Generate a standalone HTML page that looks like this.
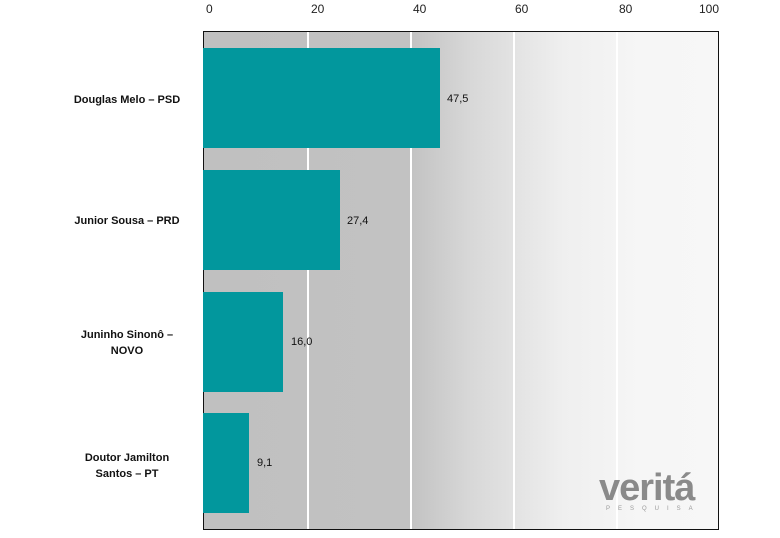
<!DOCTYPE html>
<html><head><style>
body{margin:0;width:780px;height:538px;background:#fff;position:relative;overflow:hidden;font-family:"Liberation Sans",sans-serif;}
.t{position:absolute;top:2px;font-size:12px;color:#222;}
#plot{position:absolute;left:203px;top:31px;width:516px;height:499px;border:1.5px solid #111;box-sizing:border-box;
background:linear-gradient(to right,#c0c0c0 0%,#c2c2c2 40%,#d8d8d8 52%,#efefef 70%,#f6f6f6 85%,#f7f7f7 100%);}
.g{position:absolute;top:0;bottom:0;width:1.5px;background:#fff;}
.bar{position:absolute;left:203px;height:100px;background:#02979d;}
.v{position:absolute;font-size:11px;color:#111;}
.lab{position:absolute;right:578px;width:150px;text-align:center;font-size:11px;font-weight:bold;color:#111;line-height:16px;}
</style></head><body>
<div class="t" style="left:206px">0</div>
<div class="t" style="left:311px">20</div>
<div class="t" style="left:413px">40</div>
<div class="t" style="left:515px">60</div>
<div class="t" style="left:619px">80</div>
<div class="t" style="left:699px">100</div>
<div id="plot">
<div class="g" style="left:103px"></div><div class="g" style="left:206px"></div>
<div class="g" style="left:309px"></div><div class="g" style="left:412px"></div>
<div style="position:absolute;left:395px;top:435px;font-size:38px;color:#8a8a8a;letter-spacing:-1px;font-weight:bold;">veritá</div>
<div style="position:absolute;left:402px;top:474px;font-size:6px;color:#999;letter-spacing:8px;">PESQUISA</div>
</div>
<div class="bar" style="top:48px;width:237px"></div>
<div class="bar" style="top:170px;width:137px"></div>
<div class="bar" style="top:292px;width:80px"></div>
<div class="bar" style="top:413px;width:46px"></div>
<div class="v" style="left:447px;top:93px">47,5</div>
<div class="v" style="left:347px;top:215px">27,4</div>
<div class="v" style="left:291px;top:336px">16,0</div>
<div class="v" style="left:257px;top:457px">9,1</div>
<div class="lab" style="top:92px">Douglas Melo – PSD</div>
<div class="lab" style="top:213px">Junior Sousa – PRD</div>
<div class="lab" style="top:327px">Juninho Sinonô –<br>NOVO</div>
<div class="lab" style="top:450px">Doutor Jamilton<br>Santos – PT</div>
</body></html>
